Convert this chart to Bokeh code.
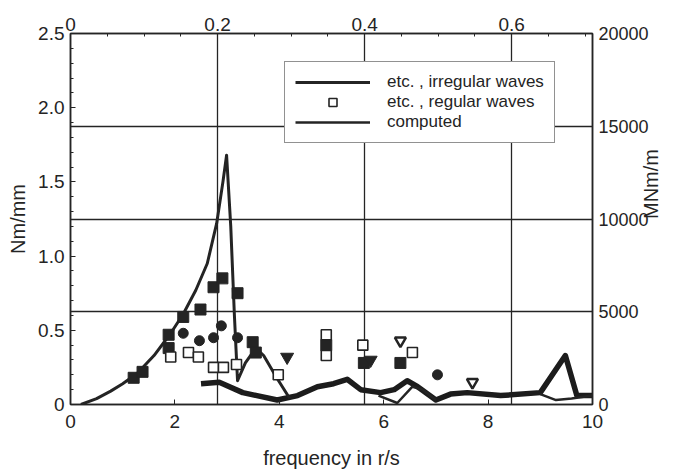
import math
from bokeh.plotting import figure
from bokeh.models import (Range1d, LinearAxis, FixedTicker, Grid, Legend, LegendItem,
                          CustomJSTickFormatter, NumeralTickFormatter)
from bokeh.embed import file_html
from bokeh.resources import INLINE

FONT = "Liberation Sans"
INK = "#242424"

# ---- data ----
# response curve, irregular waves
irr_freq = [0.2, 0.5, 0.77, 1.0, 1.28, 1.6, 1.92, 2.16, 2.4, 2.62, 2.8, 2.92, 2.99,
            3.07, 3.14, 3.2, 3.35, 3.55, 3.7, 3.95, 4.2]
irr_amp = [0.0, 0.04, 0.09, 0.14, 0.21, 0.33, 0.48, 0.61, 0.77, 0.95, 1.22, 1.5, 1.68,
           1.2, 0.6, 0.16, 0.28, 0.38, 0.33, 0.18, 0.04]

# computed response
comp_freq = [2.5, 2.85, 3.3, 3.96, 4.35, 4.73, 5.04, 5.3, 5.56, 5.94, 6.2, 6.45, 6.65,
             7.0, 7.28, 7.6, 8.24, 9.0, 9.48, 9.7, 10.0]
comp_amp = [0.14, 0.15, 0.08, 0.03, 0.06, 0.12, 0.14, 0.17, 0.10, 0.08, 0.10, 0.16, 0.12,
            0.03, 0.07, 0.08, 0.06, 0.08, 0.33, 0.06, 0.06]
comp2_freq = [5.9, 6.26, 6.55, 6.75, 7.0, float("nan"), 9.0, 9.3, 9.6, 10.0]
comp2_amp = [0.06, 0.01, 0.12, 0.10, 0.03, float("nan"), 0.07, 0.03, 0.04, 0.06]

# irregular waves, filled squares
fsq_freq = [1.21, 1.38, 1.88, 1.88, 2.16, 2.49, 2.74, 2.91, 3.2, 3.49, 3.55, 4.9, 5.62, 6.32]
fsq_amp = [0.18, 0.22, 0.47, 0.38, 0.59, 0.64, 0.79, 0.85, 0.75, 0.42, 0.35, 0.40, 0.28, 0.28]
# filled circles
fci_freq = [2.16, 2.47, 2.74, 2.89, 3.2, 7.03]
fci_amp = [0.48, 0.43, 0.45, 0.53, 0.45, 0.20]
# filled inverted triangles
ftr_freq = [4.15, 5.75]
ftr_amp = [0.32, 0.30]
# open inverted triangles
otr_freq = [6.32, 7.7]
otr_amp = [0.43, 0.15]
# regular waves, open squares
osq_freq = [1.92, 2.26, 2.45, 2.74, 2.93, 3.18, 3.98, 4.9, 4.9, 5.6, 6.55]
osq_amp = [0.32, 0.35, 0.32, 0.25, 0.25, 0.27, 0.20, 0.47, 0.33, 0.40, 0.35]

# axes
bottom_ticks = [0, 2, 4, 6, 8, 10]
left_ticks = [0, 0.5, 1.0, 1.5, 2.0, 2.5]
left_minor = [0.1 * k for k in range(26)]
top_ticks = [0, 0.2, 0.4, 0.6]
top_minor = [0.05 * k for k in range(15)]
right_ticks = [0, 5000, 10000, 15000, 20000]
top_range = (0, 0.71)
right_range = (0, 20000)

p = figure(width=676, height=473, x_range=Range1d(0, 10), y_range=Range1d(0, 2.5),
           output_backend="svg", toolbar_location=None,
           min_border_left=70, min_border_right=84, min_border_top=33, min_border_bottom=69)
p.extra_x_ranges = {"top": Range1d(*top_range)}
p.extra_y_ranges = {"right": Range1d(*right_range)}
p.xgrid.visible = False
p.ygrid.visible = False
p.outline_line_color = INK
p.outline_line_width = 1.5
p.background_fill_color = "white"
p.border_fill_color = "white"

fmt1 = CustomJSTickFormatter(code="return tick === 0 ? '0' : tick.toFixed(1);")


def style(ax, size="19px"):
    ax.axis_line_color = INK
    ax.axis_line_width = 1.5
    ax.major_tick_in = 5
    ax.major_tick_out = 0
    ax.minor_tick_in = 3
    ax.minor_tick_out = 0
    ax.major_tick_line_color = INK
    ax.minor_tick_line_color = INK
    ax.major_label_text_font = FONT
    ax.major_label_text_font_size = size
    ax.major_label_text_color = INK
    ax.axis_label_text_font = FONT
    ax.axis_label_text_font_size = "20px"
    ax.axis_label_text_font_style = "normal"
    ax.axis_label_text_color = INK


xb = p.xaxis[0]
xb.ticker = FixedTicker(ticks=bottom_ticks, minor_ticks=[])
xb.axis_label = "frequency in r/s"
style(xb)
xb.major_label_standoff = 10
xb.axis_label_standoff = 16

yl = p.yaxis[0]
yl.ticker = FixedTicker(ticks=left_ticks, minor_ticks=left_minor)
yl.formatter = fmt1
yl.axis_label = "Nm/mm"
style(yl)
yl.major_label_standoff = 6
yl.axis_label_standoff = 6

xt = LinearAxis(x_range_name="top",
                ticker=FixedTicker(ticks=top_ticks, minor_ticks=top_minor),
                formatter=fmt1)
style(xt)
xt.major_label_standoff = 3
p.add_layout(xt, "above")

yr = LinearAxis(y_range_name="right", ticker=FixedTicker(ticks=right_ticks, minor_ticks=[]),
                formatter=NumeralTickFormatter(format="0"), axis_label="MNm/m")
style(yr, "18px")
yr.major_label_standoff = 6
yr.axis_label_standoff = -1
if "axis_label_orientation" in yr.properties():
    yr.axis_label_orientation = math.pi / 2
p.add_layout(yr, "right")

vgrid = Grid(dimension=0, ticker=FixedTicker(ticks=top_ticks[1:]), x_range_name="top",
             grid_line_color=INK, grid_line_width=1.3)
hgrid = Grid(dimension=1, ticker=FixedTicker(ticks=right_ticks[1:-1]), y_range_name="right",
             grid_line_color=INK, grid_line_width=1.3)
p.add_layout(vgrid)
p.add_layout(hgrid)

# curves
r_comp = p.line(comp_freq, comp_amp, line_width=5.5, color="#1c1c1c", line_join="round")
r_comp2 = p.line(comp2_freq, comp2_amp, line_width=2.5, color=INK)
r_irr = p.line(irr_freq, irr_amp, line_width=3, color=INK, line_join="round")

# markers
p.scatter(fsq_freq, fsq_amp, marker="square", size=11, fill_color=INK, line_color=INK)
p.scatter(fci_freq, fci_amp, marker="circle", size=10, fill_color=INK, line_color=INK)
p.scatter(ftr_freq, ftr_amp, marker="inverted_triangle", size=13, fill_color=INK, line_color=INK)
p.scatter(otr_freq, otr_amp, marker="inverted_triangle", size=11, fill_color="white",
          line_color=INK, line_width=2.5)
r_osq = p.scatter(osq_freq, osq_amp, marker="square", size=10, fill_color="white",
                  line_color=INK, line_width=1.6)

legend = Legend(items=[LegendItem(label="etc. , irregular waves", renderers=[r_irr]),
                       LegendItem(label="etc. , regular waves", renderers=[r_osq]),
                       LegendItem(label="computed", renderers=[r_comp2])],
                location=(214, 261), orientation="vertical",
                glyph_width=75, glyph_height=20, label_standoff=17, label_height=20,
                spacing=0, padding=10, margin=0,
                label_text_font=FONT, label_text_font_size="17px", label_text_color=INK,
                border_line_color=INK, border_line_width=1.5,
                background_fill_color="white", background_fill_alpha=1.0)
p.add_layout(legend)

open("out.html", "w").write(file_html(p, INLINE))
